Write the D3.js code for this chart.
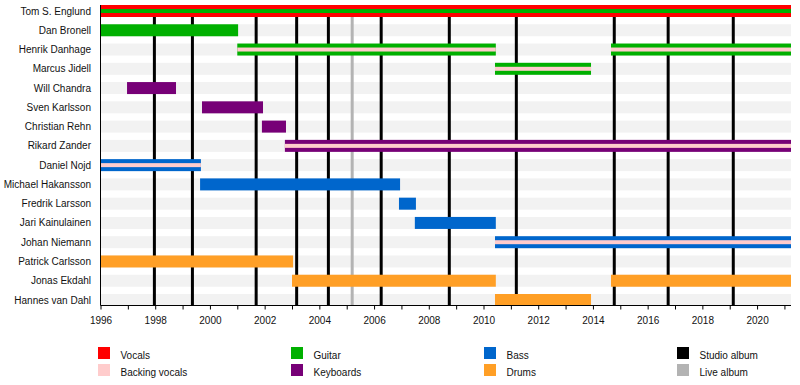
<!DOCTYPE html>
<html>
<head>
<meta charset="utf-8">
<script src="https://cdnjs.cloudflare.com/ajax/libs/d3/7.8.5/d3.min.js"></script>
<style>
  body { margin: 0; background: #fff; }
  text { font-family: "Liberation Sans", Arial, sans-serif; font-size: 10px; fill: #111; }
</style>
</head>
<body>
<div id="vis"></div>
<script>
// members top to bottom
const members = ["Tom S. Englund", "Dan Bronell", "Henrik Danhage", "Marcus Jidell",
  "Will Chandra", "Sven Karlsson", "Christian Rehn", "Rikard Zander", "Daniel Nojd",
  "Michael Hakansson", "Fredrik Larsson", "Jari Kainulainen", "Johan Niemann",
  "Patrick Carlsson", "Jonas Ekdahl", "Hannes van Dahl"];

const startYear = 1996;
const endYear = 2021.24;

// [member, from, to, main role, second role]
const periods = [
  ["Tom S. Englund", 1996, endYear, "vocals", "guitar"],
  ["Dan Bronell", 1996, 2001.03, "guitar"],
  ["Henrik Danhage", 2001.0, 2010.45, "guitar", "backing"],
  ["Henrik Danhage", 2014.66, endYear, "guitar", "backing"],
  ["Marcus Jidell", 2010.42, 2013.93, "guitar", "backing"],
  ["Will Chandra", 1996.97, 1998.76, "keyboards"],
  ["Sven Karlsson", 1999.71, 2001.94, "keyboards"],
  ["Christian Rehn", 2001.9, 2002.78, "keyboards"],
  ["Rikard Zander", 2002.74, endYear, "keyboards", "backing"],
  ["Daniel Nojd", 1996, 1999.67, "bass", "backing"],
  ["Michael Hakansson", 1999.64, 2006.95, "bass"],
  ["Fredrik Larsson", 2006.91, 2007.53, "bass"],
  ["Jari Kainulainen", 2007.49, 2010.45, "bass"],
  ["Johan Niemann", 2010.42, endYear, "bass", "backing"],
  ["Patrick Carlsson", 1996, 2003.04, "drums"],
  ["Jonas Ekdahl", 2003.0, 2010.45, "drums"],
  ["Jonas Ekdahl", 2014.66, endYear, "drums"],
  ["Hannes van Dahl", 2010.42, 2013.93, "drums"]
];

const studioAlbums = [1997.97, 1999.36, 2001.69, 2003.17, 2004.33, 2006.26, 2008.75, 2011.2, 2014.78, 2016.75, 2019.13];
const liveAlbums = [2005.2];

const roles = ["vocals", "backing", "guitar", "keyboards", "bass", "drums", "studio", "live"];
const roleLabels = ["Vocals", "Backing vocals", "Guitar", "Keyboards", "Bass", "Drums", "Studio album", "Live album"];
const roleColors = ["#ff0000", "#ffcccc", "#00b000", "#770077", "#0066cc", "#ff9f26", "#000000", "#b3b3b3"];

const tickYears = d3.range(1996, 2022);

const width = 800, height = 385;
const color = d3.scaleOrdinal().domain(roles).range(roleColors);

const svg = d3.select("#vis").append("svg")
  .attr("width", width)
  .attr("height", height);

const x = d3.scaleLinear().domain([startYear, endYear]).range([100.5, 791]);
const y = d3.scalePoint().domain(members).range([11, 300]);
const barH = 12;
const axisY = 305.5;

// row stripes
svg.append("g").selectAll("rect")
  .data(members)
  .join("rect")
  .attr("x", x(startYear))
  .attr("width", x(endYear) - x(startYear))
  .attr("y", d => y(d) - barH / 2)
  .attr("height", barH)
  .attr("fill", "#f2f2f2");

// album lines
const albums = studioAlbums.map(d => ({t: d, c: color("studio")}))
  .concat(liveAlbums.map(d => ({t: d, c: color("live")})));
svg.append("g").selectAll("line")
  .data(albums)
  .join("line")
  .attr("x1", d => x(d.t)).attr("x2", d => x(d.t))
  .attr("y1", 5).attr("y2", axisY)
  .attr("stroke", d => d.c)
  .attr("stroke-width", 3);

// bars
const bars = svg.append("g");
bars.selectAll("rect.main")
  .data(periods)
  .join("rect")
  .attr("class", "main")
  .attr("x", d => x(d[1]))
  .attr("width", d => x(d[2]) - x(d[1]))
  .attr("y", d => y(d[0]) - barH / 2)
  .attr("height", barH)
  .attr("fill", d => color(d[3]));

bars.selectAll("rect.second")
  .data(periods.filter(d => d[4]))
  .join("rect")
  .attr("class", "second")
  .attr("x", d => x(d[1]))
  .attr("width", d => x(d[2]) - x(d[1]))
  .attr("y", d => y(d[0]) - barH / 6)
  .attr("height", barH / 3)
  .attr("fill", d => color(d[4]));

// names
svg.append("g").selectAll("text")
  .data(members)
  .join("text")
  .attr("x", 91)
  .attr("y", d => y(d))
  .attr("dy", "0.35em")
  .attr("text-anchor", "end")
  .text(d => d);

// left border
svg.append("line")
  .attr("x1", 100.5).attr("x2", 100.5)
  .attr("y1", 5).attr("y2", axisY)
  .attr("stroke", "#000");

// time axis
const axis = svg.append("g")
  .attr("transform", "translate(0," + axisY + ")")
  .call(d3.axisBottom(x)
    .tickValues(tickYears)
    .tickSize(4)
    .tickPadding(7)
    .tickFormat(d => d % 2 === 0 ? d : ""));
axis.select(".domain").attr("d", "M" + x(startYear) + ",0H" + x(endYear));
axis.selectAll("text").style("font-family", "'Liberation Sans', Arial, sans-serif").style("font-size", "10px").attr("fill", "#111");

// legend
const legendCols = [98, 291, 484, 677];
const legendRows = [347, 364];
const legend = svg.append("g").selectAll("g")
  .data(roles)
  .join("g")
  .attr("transform", (d, i) => "translate(" + legendCols[Math.floor(i / 2)] + "," + legendRows[i % 2] + ")");
legend.append("rect")
  .attr("width", 12).attr("height", 12)
  .attr("fill", d => color(d));
legend.append("text")
  .attr("x", 22.5)
  .attr("y", 11.8)
  .text((d, i) => roleLabels[i]);
</script>
</body>
</html>
